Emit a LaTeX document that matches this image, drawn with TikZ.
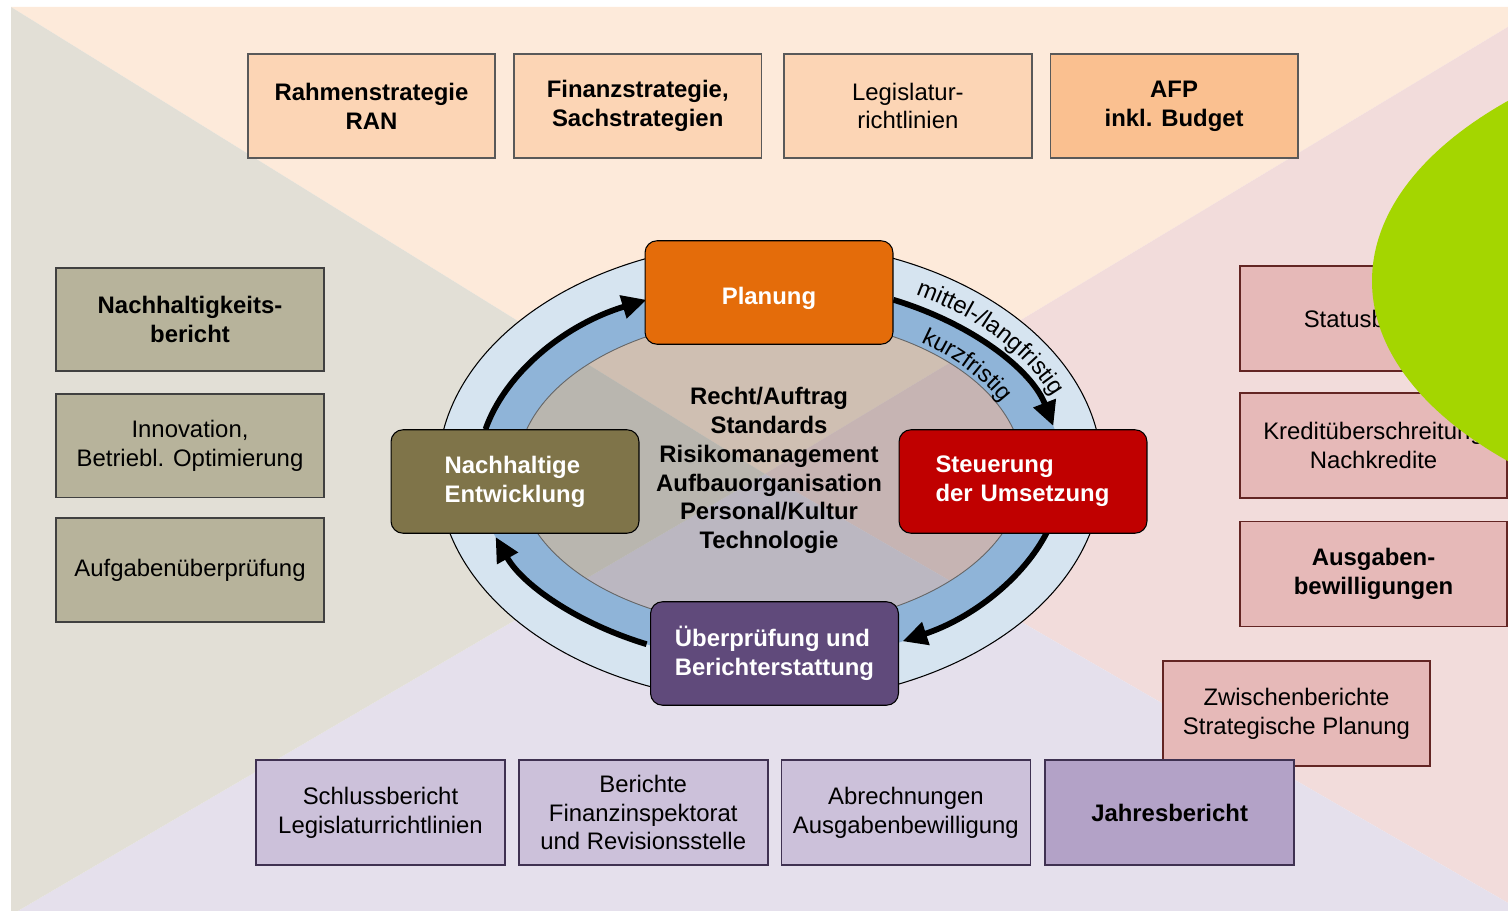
\documentclass[tikz,border=0pt]{standalone}
\usepackage{fontspec}
\setmainfont{Liberation Sans}
\usetikzlibrary{arrows.meta, positioning, decorations.text}

\definecolor{bgtop}{HTML}{FDEADA}
\definecolor{bgleft}{HTML}{E2DFD6}
\definecolor{bgright}{HTML}{F2DCDB}
\definecolor{bgbottom}{HTML}{E5E0EC}
\definecolor{peach}{HTML}{FCD5B5}
\definecolor{peachdark}{HTML}{FAC090}
\definecolor{tan}{HTML}{B7B39B}
\definecolor{rose}{HTML}{E6B9B8}
\definecolor{roseline}{HTML}{632523}
\definecolor{lilac}{HTML}{CCC1DA}
\definecolor{lilacdark}{HTML}{B3A2C7}
\definecolor{lilacline}{HTML}{3F3151}
\definecolor{ringlight}{HTML}{D6E4F0}
\definecolor{ringdark}{HTML}{8FB4D8}
\definecolor{planorange}{HTML}{E46C0A}
\definecolor{steured}{HTML}{C00000}
\definecolor{olive}{HTML}{7F7449}
\definecolor{purple}{HTML}{604A7B}
\definecolor{leaf}{HTML}{A4D600}

\begin{document}
\begin{tikzpicture}[
    x=0.02cm, y=0.02cm,
    boxfont/.style={font=\fontsize{13.6}{16.4}\selectfont},
    boldfont/.style={font=\fontsize{13.6}{16.4}\selectfont\bfseries},
    strategy/.style={rectangle, minimum width=4.95cm, minimum height=2.08cm, align=center, draw=black!65, line width=1pt, fill=peach, boxfont},
    tanbox/.style={rectangle, minimum width=5.36cm, minimum height=2.07cm, align=center, draw=black!75, line width=1pt, fill=tan, boxfont},
    rosebox/.style={rectangle, minimum width=5.34cm, minimum height=2.1cm, align=center, draw=roseline, line width=1pt, fill=rose, boxfont},
    lilacbox/.style={rectangle, minimum width=4.98cm, minimum height=2.1cm, align=center, draw=lilacline, line width=1pt, fill=lilac, boxfont},
    cyclebox/.style={rectangle, rounded corners=0.24cm, minimum width=4.96cm, minimum height=2.07cm, align=left, draw=black, line width=0.6pt, text=white, boldfont},
    cyclearrow/.style={line width=3.3pt, -{Triangle[length=14pt, width=13pt]}}
]
\useasboundingbox (0,0) rectangle (1508,-911);

% Background
\begin{scope}
\clip (11,-7) rectangle (1508,-911);
\coordinate (apex) at (765,-474);
\fill[bgtop] (11,-7) -- (1541,-7) -- (apex) -- cycle;
\fill[bgright] (1541,-7) -- (1541,-922) -- (apex) -- cycle;
\fill[bgbottom] (1541,-922) -- (11,-915) -- (apex) -- cycle;
\fill[bgleft] (11,-915) -- (11,-7) -- (apex) -- cycle;
\end{scope}

% Top row
\node (ran) at (371.5,-106) [strategy, boldfont] {Rahmenstrategie\\RAN};
\node (fin) [strategy, boldfont, right=0.34cm of ran] {Finanzstrategie,\\Sachstrategien};
\node (leg) [strategy, right=0.42cm of fin] {Legislatur-\\richtlinien};
\node (afp) [strategy, boldfont, fill=peachdark, right=0.34cm of leg] {AFP\\inkl. Budget};

% Left column
\node (nhb) at (190,-319.5) [tanbox, boldfont] {Nachhaltigkeits-\\bericht};
\node (inno) [tanbox, below=0.42cm of nhb] {Innovation,\\Betriebl. Optimierung};
\node (aufg) [tanbox, below=0.38cm of inno] {Aufgabenüberprüfung};

% Right column
\node (stat) at (1373.5,-318.5) [rosebox] {Statusbericht};
\node (kredit) [rosebox, below=0.4cm of stat] {Kreditüberschreitung\\Nachkredite};
\node (ausg) [rosebox, boldfont, below=0.44cm of kredit] {Ausgaben-\\bewilligungen};
\node (zwisch) at (1296.5,-713.5) [rosebox] {Zwischenberichte\\Strategische Planung};

% Bottom row
\node (schluss) at (380.5,-812.5) [lilacbox] {Schlussbericht\\Legislaturrichtlinien};
\node (berichte) [lilacbox, right=0.24cm of schluss] {Berichte\\Finanzinspektorat\\und Revisionsstelle};
\node (abrech) [lilacbox, right=0.24cm of berichte] {Abrechnungen\\Ausgabenbewilligung};
\node (jahres) [lilacbox, boldfont, fill=lilacdark, right=0.26cm of abrech] {Jahresbericht};

% Green shape
\begin{scope}
\clip (0,0) rectangle (1508,-911);
\fill[leaf] (1882,-281) ellipse[x radius=510, y radius=265];
\end{scope}

% Ring
\coordinate (ctr) at (770,-472);
\fill[ringlight, even odd rule] (ctr) ellipse[x radius=332, y radius=230] (ctr) ellipse[x radius=292, y radius=190];
\fill[ringdark, even odd rule] (ctr) ellipse[x radius=292, y radius=190] (ctr) ellipse[x radius=253, y radius=155];
\fill[black, opacity=0.18] (ctr) ellipse[x radius=253, y radius=155];
\draw[line width=0.6pt] (ctr) ellipse[x radius=332, y radius=230];
\draw[line width=0.5pt, black!60] (ctr) ellipse[x radius=253, y radius=155];

% Arrows
\draw[cyclearrow] ([shift={(167:292 and 190)}]ctr) arc[start angle=167, end angle=115, x radius=292, y radius=190];
\draw[cyclearrow] ([shift={(65:292 and 190)}]ctr) arc[start angle=65, end angle=14, x radius=292, y radius=190];
\draw[cyclearrow] ([shift={(-18:292 and 190)}]ctr) arc[start angle=-18, end angle=-63, x radius=292, y radius=190];
\draw[cyclearrow] ([shift={(245:292 and 190)}]ctr) arc[start angle=245, end angle=200, x radius=292, y radius=190];

% Arc labels
\path[decorate, decoration={text along path, text align=center, text={|\fontsize{13.6}{16}\selectfont|mittel-/langfristig}}]
    ([shift={(70:304 and 202)}]ctr) arc[start angle=70, end angle=10, x radius=304, y radius=202];
\path[decorate, decoration={text along path, text align=center, text={|\fontsize{13.6}{16}\selectfont|kurzfristig}}]
    ([shift={(64:257 and 160)}]ctr) arc[start angle=64, end angle=12, x radius=257, y radius=160];

% Cycle
\node (plan) at (769,-292.5) [cyclebox, fill=planorange, align=center, text height=16.7pt, text depth=2.9pt] {Planung};
\node (steu) at (1023,-481.5) [cyclebox, fill=steured, text width=3.5cm] {Steuerung\\der Umsetzung};
\node (nach) at (515,-481.5) [cyclebox, fill=olive] {Nachhaltige\\Entwicklung};
\node (ueber) at (774.5,-653.5) [cyclebox, fill=purple] {Überprüfung und\\Berichterstattung};

\node (core) at (769,-470.5) [align=center, boldfont] {Recht/Auftrag\\Standards\\Risikomanagement\\Aufbauorganisation\\Personal/Kultur\\Technologie};

\end{tikzpicture}
\end{document}
